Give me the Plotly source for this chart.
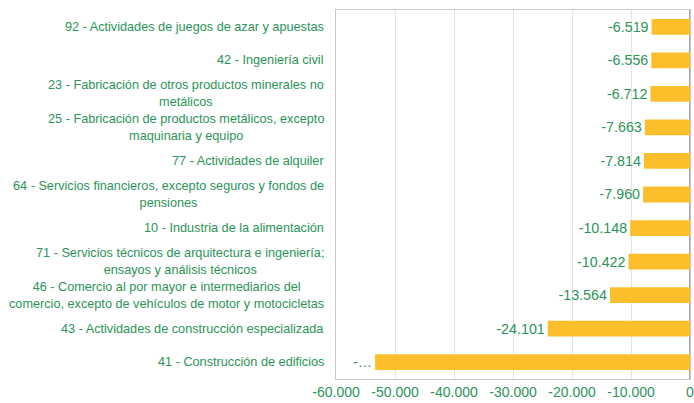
import plotly.graph_objects as go

# Sectores (top to bottom) and their variation
categories = [
    "92 - Actividades de juegos de azar y apuestas",
    "42 - Ingeniería civil",
    "23 - Fabricación de otros productos minerales no<br>metálicos",
    "25 - Fabricación de productos metálicos, excepto<br>maquinaria y equipo",
    "77 - Actividades de alquiler",
    "64 - Servicios financieros, excepto seguros y fondos de<br>pensiones",
    "10 - Industria de la alimentación",
    "71 - Servicios técnicos de arquitectura e ingeniería;<br>ensayos y análisis técnicos",
    "46 - Comercio al por mayor e intermediarios del<br>comercio, excepto de vehículos de motor y motocicletas",
    "43 - Actividades de construcción especializada",
    "41 - Construcción de edificios",
]
values = [-6519, -6556, -6712, -7663, -7814, -7960, -10148, -10422, -13564, -24101, -53380]

x_ticks = [-60000, -50000, -40000, -30000, -20000, -10000, 0]

GREEN = "#2b9457"
BAR = "#fdbe2b"
FONT = "Arial, 'Liberation Sans', sans-serif"


def fmt(v):
    return f"{v:,.0f}".replace(",", ".")


# Value labels; the widest one does not fit beside its bar and is elided
labels = [fmt(v) for v in values]
labels[-1] = "-…"

keys = [f"c{i}" for i in range(len(categories))]

fig = go.Figure(
    go.Bar(
        x=values,
        y=keys,
        orientation="h",
        marker=dict(color=BAR, line=dict(width=0)),
        text=labels,
        textposition="outside",
        textfont=dict(color=GREEN, size=14.5, family=FONT),
        cliponaxis=False,
        hoverinfo="skip",
    )
)

# Category names drawn as centred multi-line labels beside the axis
for k, name in zip(keys, categories):
    fig.add_annotation(
        x=0, xref="paper", y=k, yref="y",
        text=name, showarrow=False,
        xanchor="right", xshift=-10, align="center",
        font=dict(color=GREEN, size=12.7, family=FONT),
    )

fig.update_layout(
    width=694, height=403,
    margin=dict(l=336, r=4, t=10, b=24, autoexpand=False),
    paper_bgcolor="white", plot_bgcolor="white",
    bargap=0.53,
    showlegend=False,
    separators=",.",
    font=dict(family=FONT, color=GREEN),
    xaxis=dict(
        range=[-60000, 0],
        tickvals=x_ticks,
        ticktext=[fmt(v) for v in x_ticks],
        tickfont=dict(color=GREEN, size=14, family=FONT),
        ticklabeloverflow="allow",
        automargin=False,
        showgrid=True, gridcolor="#e3e3e3", gridwidth=1,
        zeroline=True, zerolinecolor="#a8a8a8", zerolinewidth=1.5,
        showline=True, linecolor="#c8c8c8", linewidth=1, mirror=True,
        ticks="", fixedrange=True,
    ),
    yaxis=dict(
        categoryorder="array", categoryarray=keys,
        autorange="reversed",
        showticklabels=False,
        automargin=False,
        showgrid=False, zeroline=False,
        showline=True, linecolor="#c8c8c8", linewidth=1, mirror=True,
        ticks="", fixedrange=True,
    ),
)

fig.write_html("out.html")
